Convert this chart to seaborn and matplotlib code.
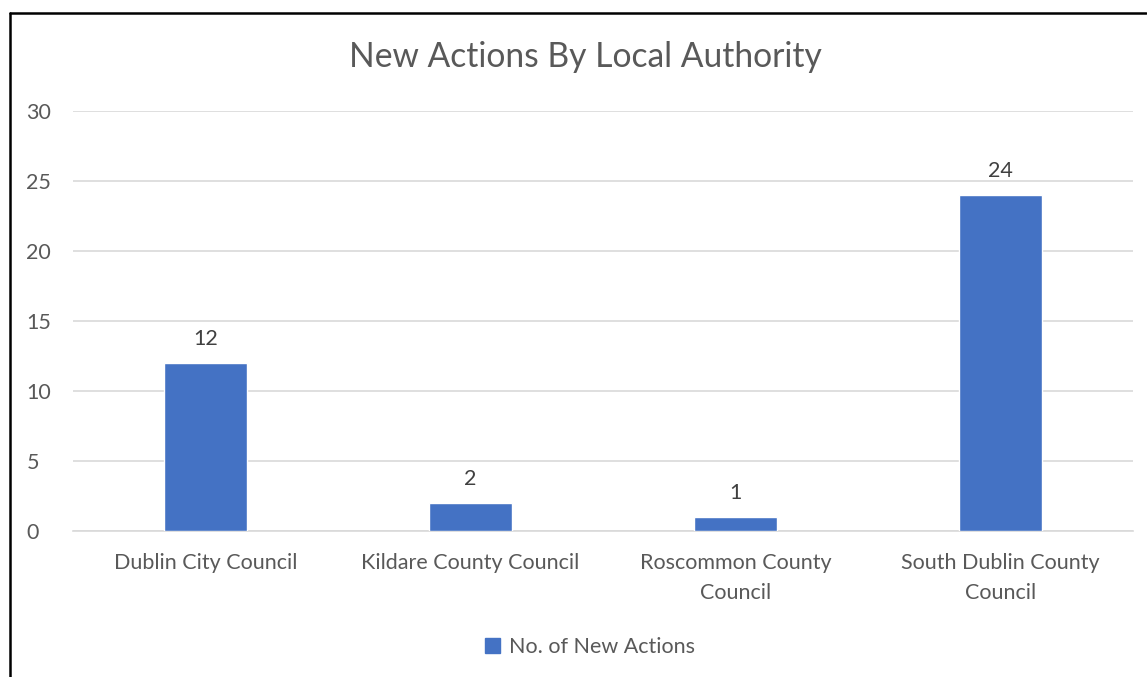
import matplotlib
matplotlib.use("Agg")
import matplotlib.pyplot as plt
import seaborn as sns
import pandas as pd
from matplotlib.lines import Line2D
from matplotlib.patches import Patch

categories = ["Dublin City Council", "Kildare County Council",
              "Roscommon County Council", "South Dublin County Council"]
tick_labels = ["Dublin City Council", "Kildare County Council",
               "Roscommon County\nCouncil", "South Dublin County\nCouncil"]
values = [12, 2, 1, 24]
series_name = "No. of New Actions"
title = "New Actions By Local Authority"

sns.set_theme(style="white")
plt.rcParams['font.family'] = ['Lato', 'DejaVu Sans']
TEXT = "#595959"
BAR = "#4472C4"
FS = 15.5

df = pd.DataFrame({"cat": categories, "val": values})

fig = plt.figure(figsize=(11.47, 6.77), dpi=100)
ax = fig.add_axes([0.0636, 0.2157, 0.9242, 0.6203])
sns.barplot(data=df, x="cat", y="val", color=BAR, width=0.313, ax=ax,
            saturation=1, zorder=3)
ax.set_ylim(0, 30)
ax.set_xlim(-0.5, 3.5)
ax.set_yticks(range(0, 31, 5))
ax.yaxis.grid(True, color="#D9D9D9", linewidth=1.2, zorder=0)
ax.set_axisbelow(True)
for s in ax.spines.values():
    s.set_visible(False)
ax.spines['bottom'].set_visible(True)
ax.spines['bottom'].set_color("#D9D9D9")
ax.spines['bottom'].set_linewidth(1.2)
ax.set_xticks(range(len(categories)))
ax.set_xticklabels(tick_labels, fontsize=FS, color=TEXT, linespacing=1.6)
ax.tick_params(axis='y', labelsize=FS, labelcolor=TEXT, length=0, pad=33.5)
ax.tick_params(axis='x', length=0, pad=16)
for lab in ax.get_yticklabels():
    lab.set_horizontalalignment('left')
ax.set_xlabel("")
ax.set_ylabel("")

for i, v in enumerate(values):
    ax.annotate(str(v), (i, v), xytext=(0, 10), textcoords="offset points",
                ha="center", va="bottom", fontsize=FS, color="#404040")

fig.text(585.5/1147, 1 - 57/677, title, ha="center", va="center",
         fontsize=24.2, color=TEXT)

handles = [Patch(facecolor=BAR, edgecolor=BAR, label=series_name)]
fig.legend(handles=handles, loc="center", bbox_to_anchor=(0.5145, 1 - 647/677),
           frameon=False, fontsize=FS, handlelength=0.7, handleheight=0.7,
           handletextpad=0.4, labelcolor=TEXT)

# outer frame (left and top)
fig.add_artist(Line2D([9.5/1147, 9.5/1147], [0, 1 - 12.5/677], color="black",
                      linewidth=1.8, transform=fig.transFigure))
fig.add_artist(Line2D([9.5/1147, 1146/1147], [1 - 12.5/677, 1 - 12.5/677],
                      color="black", linewidth=1.8, transform=fig.transFigure))

fig.savefig("out.png", dpi=100)
